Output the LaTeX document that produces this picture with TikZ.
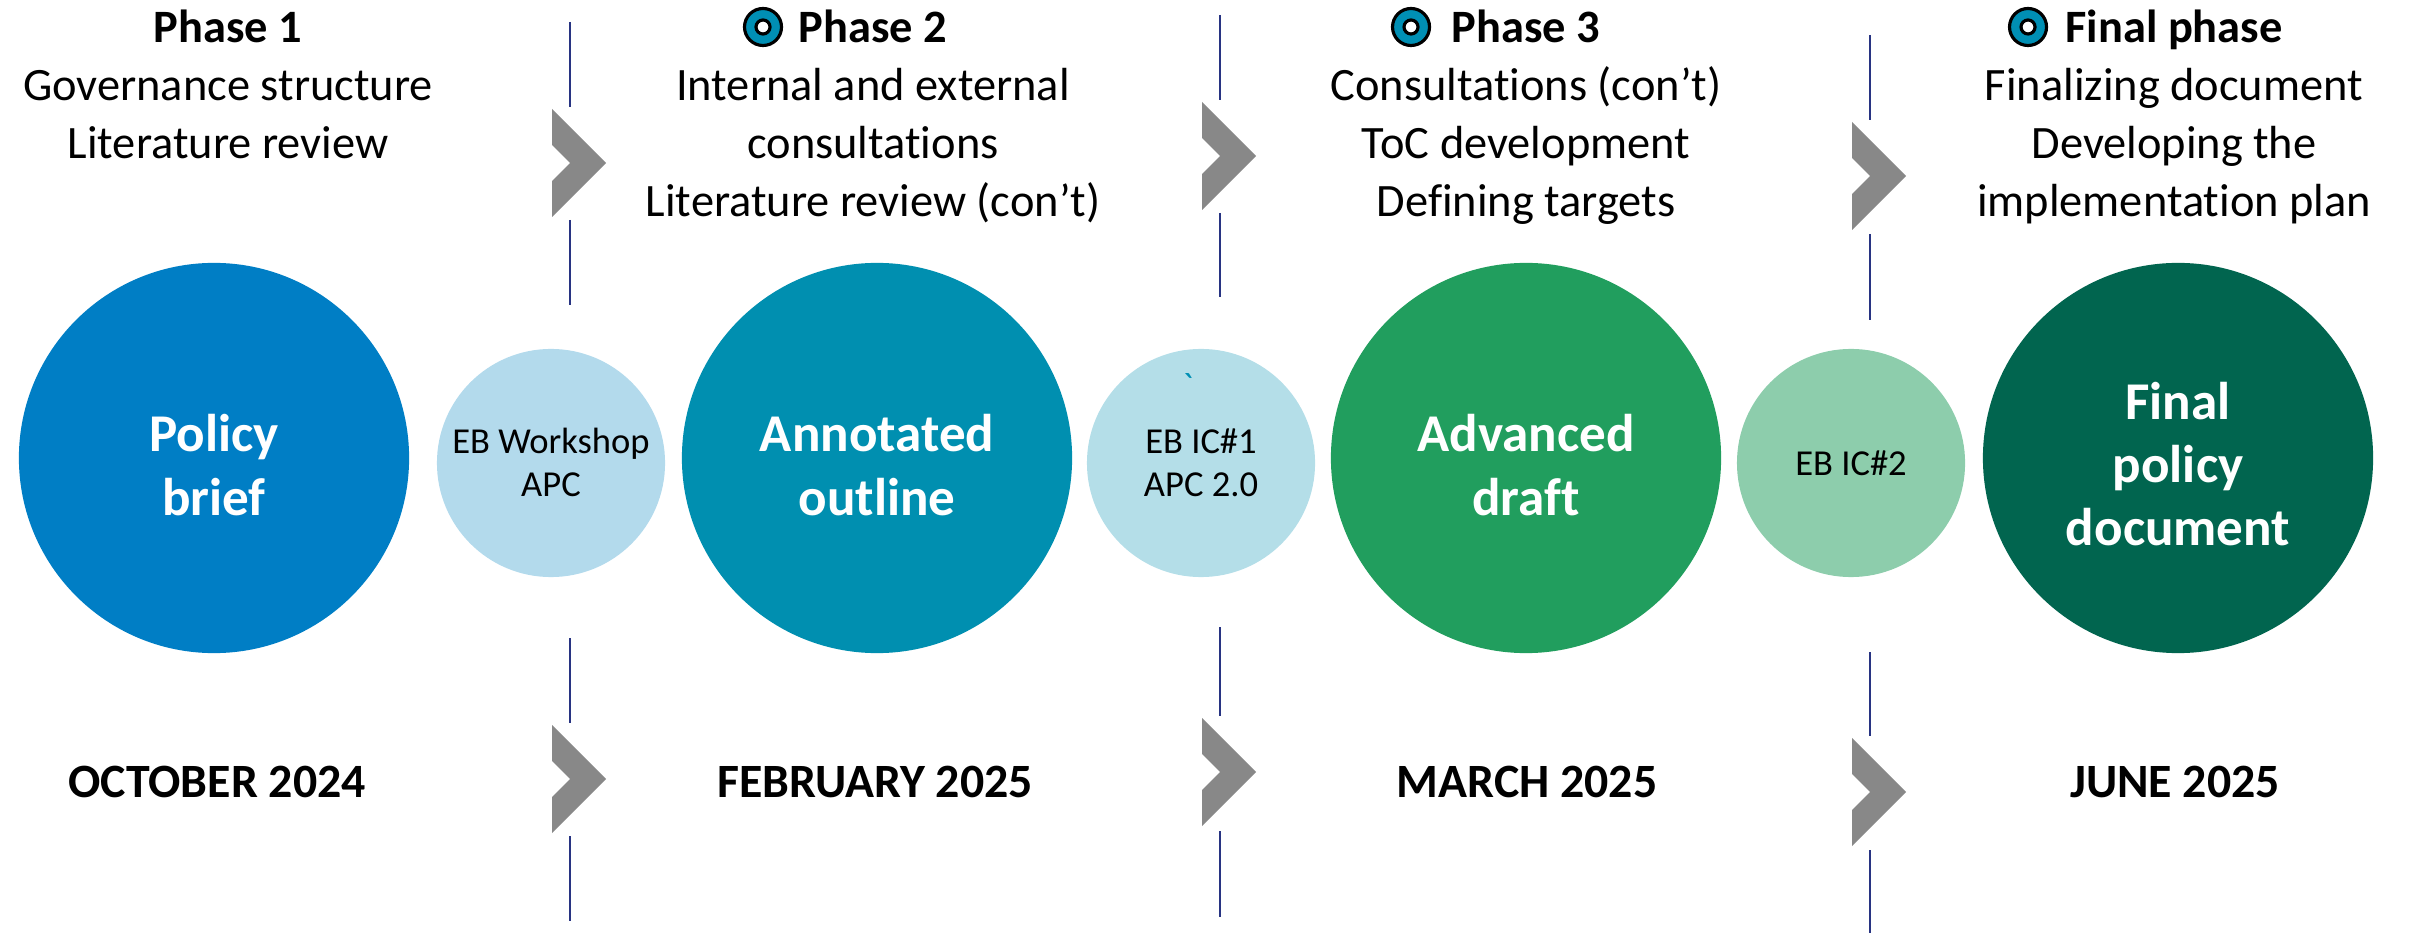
\documentclass[tikz,border=0pt]{standalone}
\usepackage{fontspec}
\setmainfont{Carlito}[Ligatures={TeX,NoCommon}]
\definecolor{cPB}{RGB}{0,126,197}
\definecolor{cAO}{RGB}{0,143,176}
\definecolor{cAD}{RGB}{33,158,94}
\definecolor{cFD}{RGB}{1,101,79}
\definecolor{cS1}{RGB}{179,218,236}
\definecolor{cS2}{RGB}{180,222,232}
\definecolor{cS3}{RGB}{141,205,172}
\definecolor{chevgray}{RGB}{136,136,136}
\definecolor{linenavy}{RGB}{40,52,130}
\definecolor{ringteal}{RGB}{0,143,180}
\newcommand\mychev[2]{\fill[chev, shift={(#1,#2)}] (-18,0) -- (36,54) -- (-18,108) -- (-18,72) -- (0,54) -- (-18,36) -- cycle;}
\begin{document}
\begin{tikzpicture}[x=0.01cm,y=-0.01cm,
  bigc/.style={circle, minimum size=3.9cm, inner sep=0pt, draw=none},
  smallc/.style={circle, minimum size=2.28cm, inner sep=0pt, draw=none},
  bigtxt/.style={anchor=base, text=white, font=\fontsize{15.1}{18}\selectfont\bfseries, inner sep=0pt},
  smalltxt/.style={anchor=base, text=black, font=\fontsize{10.4}{12}\selectfont, inner sep=0pt},
  head/.style={anchor=base, font=\fontsize{13.2}{16}\selectfont\bfseries, inner sep=0pt},
  body/.style={anchor=base, font=\fontsize{13.2}{16}\selectfont, inner sep=0pt},
  datetxt/.style={anchor=base, font=\fontsize{13.6}{16}\selectfont\bfseries, inner sep=0pt},
  sep/.style={draw=linenavy, line width=0.6pt},
  chev/.style={fill=chevgray, draw=none},
  ring/.style={circle, fill=ringteal, draw=black, line width=0.9pt, minimum size=0.37cm, inner sep=0pt},
  hole/.style={circle, fill=white, draw=black, line width=0.9pt, minimum size=0.14cm, inner sep=0pt}
]
\useasboundingbox (0,0) rectangle (2410,934);

% separator lines
\draw[sep] (570,22) -- (570,107);
\draw[sep] (570,220) -- (570,305);
\draw[sep] (570,638) -- (570,723);
\draw[sep] (570,836) -- (570,921);
\draw[sep] (1220,15) -- (1220,100);
\draw[sep] (1220,213) -- (1220,297);
\draw[sep] (1220,627) -- (1220,716);
\draw[sep] (1220,831) -- (1220,917);
\draw[sep] (1870,35) -- (1870,120);
\draw[sep] (1870,234) -- (1870,320);
\draw[sep] (1870,652) -- (1870,736);
\draw[sep] (1870,850) -- (1870,933);

% chevrons
\mychev{570}{109}
\mychev{1220}{102}
\mychev{1870}{122}
\mychev{570}{725}
\mychev{1220}{718}
\mychev{1870}{738}

% circles
\node[bigc, fill=cPB] (pb) at (214,458) {};
\node[smallc, fill=cS1] (s1) at (551,463) {};
\node[bigc, fill=cAO] (ao) at (877,458) {};
\node[smallc, fill=cS2] (s2) at (1201,463) {};
\node[bigc, fill=cAD] (ad) at (1526,458) {};
\node[smallc, fill=cS3] (s3) at (1851,463) {};
\node[bigc, fill=cFD] (fd) at (2178,458) {};

% circle texts
\node[bigtxt] (pb1) at (214,452) {Policy};
\node[bigtxt] (pb2) at (214,515) {brief};
\node[bigtxt] (ao1) at (877,452) {Annotated};
\node[bigtxt] (ao2) at (877,515) {outline};
\node[bigtxt] (ad1) at (1526,452) {Advanced};
\node[bigtxt] (ad2) at (1526,515) {draft};
\node[bigtxt] (fd1) at (2178,420) {Final};
\node[bigtxt] (fd2) at (2178,483) {policy};
\node[bigtxt] (fd3) at (2178,546) {document};

\node[smalltxt] (s1a) at (551,454) {EB Workshop};
\node[smalltxt] (s1b) at (551,497) {APC};
\node[smalltxt] (s2a) at (1201,454) {EB IC\#1};
\node[smalltxt] (s2b) at (1201,497) {APC 2.0};
\node[smalltxt] (s3a) at (1851,476) {EB IC\#2};
\node[anchor=center, text=ringteal, font=\fontsize{10.4}{12}\selectfont, inner sep=0pt] (tick) at (1188,386) {\textasciigrave};

% headers
\node[head] (h1) at (228,43) {Phase 1};
\node[body] (h1a) at (228,101) {Governance structure};
\node[body] (h1b) at (228,159) {Literature review};

\node[head] (h2) at (873,43) {Phase 2};
\node[ring] (r2) at (763,27) {};
\node[hole] (r2h) at (r2) {};
\node[body] (h2a) at (873,101) {Internal and external};
\node[body] (h2b) at (873,159) {consultations};
\node[body] (h2c) at (873,217) {Literature review (con’t)};

\node[head] (h3) at (1526,43) {Phase 3};
\node[ring] (r3) at (1411,27) {};
\node[hole] (r3h) at (r3) {};
\node[body] (h3a) at (1526,101) {Consultations (con’t)};
\node[body] (h3b) at (1526,159) {ToC development};
\node[body] (h3c) at (1526,217) {Defining targets};

\node[head] (h4) at (2174,43) {Final phase};
\node[ring] (r4) at (2028,27) {};
\node[hole] (r4h) at (r4) {};
\node[body] (h4a) at (2174,101) {Finalizing document};
\node[body] (h4b) at (2174,159) {Developing the};
\node[body] (h4c) at (2174,217) {implementation plan};

% dates
\node[datetxt] (d1) at (217,797) {OCTOBER 2024};
\node[datetxt] (d2) at (875,797) {FEBRUARY 2025};
\node[datetxt] (d3) at (1527,797) {MARCH 2025};
\node[datetxt] (d4) at (2175,797) {JUNE 2025};
\end{tikzpicture}
\end{document}
